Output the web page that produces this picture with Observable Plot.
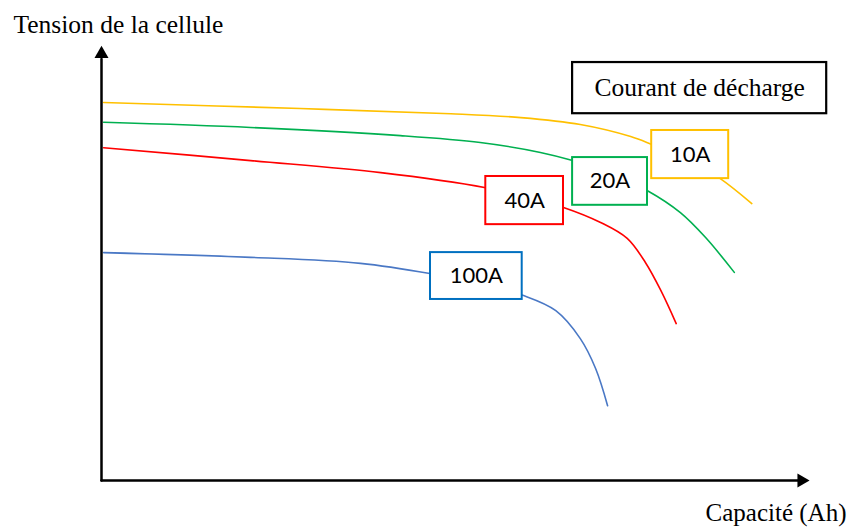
<!DOCTYPE html>
<html>
<head>
<meta charset="utf-8">
<script src="https://cdn.jsdelivr.net/npm/d3@7"></script>
<script src="https://cdn.jsdelivr.net/npm/@observablehq/plot@0.6"></script>
<style>
  html, body { margin: 0; padding: 0; background: #fff; }
  #chart svg { display: block; }
</style>
</head>
<body>
<div id="chart"></div>
<script>
// ---- Data (abstract units: capacity 0-100, voltage 0-100) ----
const seriesNames = ["10A", "20A", "40A", "100A"];
const lineColors = ["#FFC000", "#00B050", "#FF0000", "#4A78C5"];
const boxColors = ["#FFC000", "#00B050", "#FF0000", "#0070C0"];

const capacity10A = [0.3, 28.4, 49.9, 59.9, 68.4, 75.6, 78.7, 84.0, 88.4, 92.9];
const voltage10A  = [87.9, 86.5, 85.3, 84.4, 82.8, 80.0, 78.1, 74.5, 70.2, 64.4];

const capacity20A = [0.3, 21.3, 42.7, 54.1, 62.7, 67.3, 72.8, 78.0, 82.7, 86.3, 90.4];
const voltage20A  = [83.3, 82.1, 80.2, 78.6, 76.3, 74.4, 71.3, 67.4, 62.3, 56.5, 48.4];

const capacity40A = [0.3, 21.3, 39.9, 54.9, 60.5, 66.0, 71.3, 75.1, 77.7, 79.9, 82.1];
const voltage40A  = [77.4, 74.4, 71.6, 68.1, 66.0, 63.5, 60.0, 56.3, 50.7, 44.2, 36.5];

const capacity100A = [0.3, 21.3, 37.0, 47.0, 54.0, 60.3, 64.9, 68.4, 70.6, 72.3];
const voltage100A  = [53.0, 51.9, 50.5, 48.1, 45.8, 43.0, 39.5, 33.0, 26.0, 17.4];

// label boxes [x1, x2, y1, y2]
const boxX1 = [78.6, 67.3, 54.9, 47.0];
const boxX2 = [89.6, 78.0, 66.0, 60.1];
const boxY1 = [70.2, 64.0, 59.5, 42.1];
const boxY2 = [81.4, 75.1, 70.7, 53.0];

const legendTitle = "Courant de décharge";
const legendBox = {x1: 67.3, x2: 103.6, y1: 85.3, y2: 97.2};
const yTitle = "Tension de la cellule";
const xTitle = "Capacité (Ah)";

// ---- Build tables ----
const caps = [capacity10A, capacity20A, capacity40A, capacity100A];
const volts = [voltage10A, voltage20A, voltage40A, voltage100A];
const curves = seriesNames.map((name, i) => ({
  name, color: lineColors[i],
  points: caps[i].map((c, j) => ({capacity: c, voltage: volts[i][j]}))
}));
const boxes = seriesNames.map((name, i) => ({
  name, color: boxColors[i],
  x1: boxX1[i], x2: boxX2[i], y1: boxY1[i], y2: boxY2[i],
  cx: (boxX1[i] + boxX2[i]) / 2, cy: (boxY1[i] + boxY2[i]) / 2
}));

const marks = [];
for (const c of curves) {
  marks.push(Plot.line(c.points, {x: "capacity", y: "voltage", stroke: c.color, strokeWidth: 1.6, curve: "catmull-rom"}));
}
marks.push(
  Plot.rect(boxes, {x1: "x1", x2: "x2", y1: "y1", y2: "y2", fill: "white", stroke: d => d.color, strokeWidth: 2, inset: 0}),
  Plot.text(boxes, {x: "cx", y: "cy", text: "name", fontFamily: "Lato", fontSize: 22, fill: "black"}),
  Plot.rect([legendBox], {x1: "x1", x2: "x2", y1: "y1", y2: "y2", fill: "white", stroke: "black", strokeWidth: 2.2}),
  Plot.text([legendTitle], {x: (legendBox.x1 + legendBox.x2) / 2, y: (legendBox.y1 + legendBox.y2) / 2, text: d => d, fontFamily: "Liberation Serif", fontSize: 25.5, fill: "black"}),
  // axes
  Plot.line([{x: 0, y: 0}, {x: 0, y: 98}], {x: "x", y: "y", stroke: "black", strokeWidth: 2.5}),
  Plot.line([{x: 0, y: 0}, {x: 99.5, y: 0}], {x: "x", y: "y", stroke: "black", strokeWidth: 2.5}),
  Plot.dot([{x: 0, y: 99.2}], {x: "x", y: "y", symbol: "triangle", r: 5.2, fill: "black", stroke: "none"}),
  Plot.dot([{x: 100.0, y: 0}], {x: "x", y: "y", symbol: "triangle", r: 5.2, fill: "black", stroke: "none", rotate: 90}),
  // axis titles
  Plot.text([yTitle], {frameAnchor: "top-left", lineAnchor: "top", dx: -88, dy: -36, text: d => d, textAnchor: "start", fontFamily: "Liberation Serif", fontSize: 25.5, fill: "black"}),
  Plot.text([xTitle], {frameAnchor: "bottom-right", lineAnchor: "bottom", dx: 45, dy: 40, text: d => d, textAnchor: "end", fontFamily: "Liberation Serif", fontSize: 25, fill: "black"})
);

const chart = Plot.plot({
  width: 847,
  height: 527,
  marginLeft: 101,
  marginRight: 46,
  marginTop: 50,
  marginBottom: 47,
  x: {domain: [0, 100], axis: null},
  y: {domain: [0, 100], axis: null},
  style: {background: "white", overflow: "visible"},
  marks
});
document.getElementById("chart").appendChild(chart);
</script>
</body>
</html>
